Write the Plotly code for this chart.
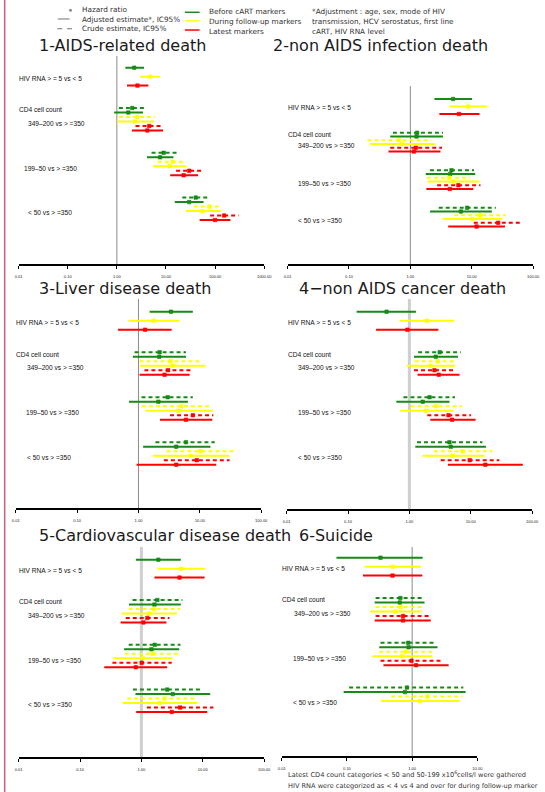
import plotly.graph_objects as go

W, H = 545, 792

# ---------------- data ----------------
tick_vals = [0.01, 0.1, 1, 10, 100, 1000]
tick_text = ["0.01", "0.10", "1.00", "10.00", "100.00", "1000.00"]

panel_titles = ["1-AIDS-related death", "2-non AIDS infection death",
                "3-Liver disease death", "4\u2212non AIDS cancer death",
                "5-Cardiovascular disease death", "6-Suicide"]

row_labels = ["HIV RNA > = 5 vs < 5", "CD4 cell count",
              "349\u2013200 vs > =350", "199\u201350 vs > =350", "< 50 vs > =350"]

# rows: HIV RNA (3 markers, adjusted) then 3 CD4 groups x (crude/adjusted x 3 markers)
row_marker = (["before", "during", "latest"]
              + ["before", "before", "during", "during", "latest", "latest"] * 3)
row_kind = ["adjusted"] * 3 + ["crude", "adjusted"] * 9
row_slot = [0, 2, 4, 9, 10, 11, 12, 13, 14, 19, 20, 21, 22, 23, 24,
            29, 30, 31, 32, 33, 34]

# 1 - AIDS-related death
aids_lo = [1.49, 2.97, 1.61, 1.10, 0.88, 1.10, 1.00, 2.40, 2.03,
           5.09, 4.11, 6.81, 5.49, 16.1, 12.2, 21.5, 15.1, 36.8, 25.5, 79.4, 48.6]
aids_est = [2.26, 4.71, 2.63, 2.06, 1.71, 2.59, 2.33, 4.57, 4.17,
            8.98, 7.59, 13.8, 12.0, 29.8, 22.9, 40.4, 29.8, 77.0, 55.6, 153, 100]
aids_hi = [3.57, 7.59, 4.37, 4.04, 3.41, 5.94, 5.75, 8.86, 8.72,
           16.6, 14.2, 25.1, 26.3, 56.6, 45.1, 75.9, 58.5, 129, 131, 302, 206]

# 2 - non AIDS infection death
inf_lo = [2.47, 4.30, 2.97, 0.52, 0.47, 0.20, 0.22, 0.47, 0.44,
          2.09, 1.78, 1.87, 1.91, 2.73, 1.82, 2.90, 2.09, 5.16, 3.36, 10.8, 4.14]
inf_est = [4.97, 8.76, 6.20, 1.29, 1.26, 0.65, 0.74, 1.23, 1.14,
           4.68, 4.46, 4.30, 5.03, 6.06, 4.40, 8.42, 6.68, 13.6, 10.2, 27.0, 12.0]
inf_hi = [10.1, 18.0, 13.4, 3.40, 3.40, 2.19, 2.54, 3.28, 3.09,
          10.9, 11.4, 9.42, 13.4, 13.9, 10.6, 24.7, 21.3, 35.8, 31.2, 67.5, 34.8]

# 3 - Liver disease death
liver_lo = [1.52, 0.685, 0.463, 0.864, 0.81, 1.04, 1.06, 1.25, 1.04,
            1.12, 0.70, 1.14, 1.29, 3.27, 2.24, 1.89, 1.19, 2.86, 1.71, 2.59, 0.93]
liver_est = [3.39, 1.77, 1.28, 2.21, 2.18, 3.35, 3.60, 3.04, 2.66,
             3.00, 2.11, 5.01, 4.54, 7.69, 5.95, 5.95, 4.12, 10.3, 7.06, 8.91, 4.12]
liver_hi = [7.69, 4.66, 3.47, 5.95, 5.95, 9.83, 12.4, 7.42, 6.81,
            7.69, 6.40, 14.9, 16.2, 16.6, 16.0, 17.5, 14.9, 36.3, 30.1, 30.5, 18.5]

# 4 - non AIDS cancer death
cancer_lo = [0.138, 0.693, 0.287, 1.39, 1.19, 1.22, 0.906, 1.19, 1.36,
             0.80, 0.613, 1.05, 0.71, 1.96, 2.19, 1.33, 1.25, 2.50, 1.63, 3.24, 4.24]
cancer_est = [0.425, 1.94, 0.929, 3.12, 2.69, 2.90, 2.21, 2.56, 3.01,
              2.13, 1.65, 2.73, 1.87, 4.34, 4.97, 4.50, 4.73, 7.34, 5.09, 9.61, 17.3]
cancer_hi = [1.28, 5.34, 2.97, 6.90, 6.19, 5.89, 5.54, 5.54, 6.57,
             5.54, 4.50, 7.16, 5.27, 10.1, 12.0, 15.5, 17.7, 22.6, 16.8, 29.3, 70.5]

# 5 - Cardiovascular disease death
cvd_lo = [0.812, 1.82, 1.63, 0.719, 0.628, 0.62, 0.474, 0.556, 0.457,
          0.62, 0.523, 0.536, 0.345, 0.337, 0.248, 0.727, 0.80, 0.59, 0.498, 1.23, 0.822]
cvd_est = [1.89, 4.45, 4.18, 1.82, 1.63, 1.61, 1.34, 1.25, 1.08,
           1.65, 1.46, 1.53, 1.05, 1.01, 0.81, 2.63, 3.24, 2.38, 1.98, 4.28, 3.12]
cvd_hi = [4.39, 11.0, 10.7, 4.67, 4.39, 4.28, 3.79, 2.86, 2.56,
          4.34, 4.13, 4.39, 3.16, 3.12, 2.63, 9.03, 13.2, 7.54, 8.09, 14.9, 11.8]

# 6 - Suicide
suic_lo = [0.069, 0.186, 0.176, 0.275, 0.266, 0.275, 0.226, 0.275, 0.266,
           0.327, 0.313, 0.313, 0.245, 0.327, 0.363, 0.108, 0.089, 0.478, 0.335, None, None]
suic_est = [0.327, 0.507, 0.501, 0.661, 0.646, 0.668, 0.556, 0.724, 0.724,
            0.871, 0.881, 0.794, 0.70, 0.977, 1.15, 0.832, 0.776, 1.70, 1.30, None, None]
suic_hi = [1.45, 1.36, 1.43, 1.45, 1.55, 1.45, 1.40, 1.93, 1.93,
           2.29, 2.45, 2.14, 2.04, 2.92, 3.63, 6.10, 6.61, 5.96, 5.31, None, None]

panel_data = [(aids_lo, aids_est, aids_hi), (inf_lo, inf_est, inf_hi),
              (liver_lo, liver_est, liver_hi), (cancer_lo, cancer_est, cancer_hi),
              (cvd_lo, cvd_est, cvd_hi), (suic_lo, suic_est, suic_hi)]

# ---------------- layout geometry (pixels) ----------------
panels = [
    dict(l=15, r=266, t=56, b=264, xr=[-2, 3], y0=67.7, st=4.48, vl="thin",
         title=(34, 46), labs=(13, 22, 18, 22)),
    dict(l=290, r=541, t=86, b=264, xr=[-2, 2], y0=99.0, st=3.75, vl="thin",
         title=(273, 46), labs=(288, 299, 299, 299)),
    dict(l=12, r=263, t=299, b=508, xr=[-2, 2], y0=311.7, st=4.5, vl="thin",
         title=(34, 289), labs=(10, 21, 20, 21)),
    dict(l=289, r=540, t=299, b=509, xr=[-2, 2], y0=311.7, st=4.5, vl="thick",
         title=(300, 289), labs=(288, 299, 299, 299)),
    dict(l=15, r=266, t=547, b=757, xr=[-2, 2], y0=559.7, st=4.48, vl="thick",
         title=(34, 535), labs=(13, 23, 23, 23)),
    dict(l=284, r=484, t=547, b=756, xr=[-2, 1], y0=557.7, st=4.48, vl="thin",
         title=(300, 535), labs=(282, 294, 293, 293)),
]
label_slots = [2.35, 9.4, 12.5, 22.4, 32.35]

colors = {"before": "#178a17", "during": "#ffff00", "latest": "#ff0000"}
dash_of = {"crude": "4px,3px", "adjusted": "solid"}

TXT = "#333333"
fig = go.Figure()
annotations = []
shapes = []
layout_axes = {}

for i, (p, (lo, est, hi)) in enumerate(zip(panels, panel_data)):
    n = i + 1
    xa = "x" if n == 1 else f"x{n}"
    ya = "y" if n == 1 else f"y{n}"
    y_bot = (p["b"] - p["y0"]) / p["st"]
    y_top = (p["t"] - p["y0"]) / p["st"]

    if p["vl"] == "thin":
        vl = dict(color="#8c8c8c", width=1)
    else:
        vl = dict(color="#cfcfcf", width=3)
    fig.add_trace(go.Scatter(x=[1, 1], y=[y_top, y_bot], mode="lines", line=vl,
                             xaxis=xa, yaxis=ya, showlegend=False, hoverinfo="skip"))

    for mk in ["before", "during", "latest"]:
        for kind in ["crude", "adjusted"]:
            xs, ys = [], []
            for j in range(len(row_slot)):
                if row_marker[j] == mk and row_kind[j] == kind and lo[j] is not None:
                    xs += [lo[j], hi[j], None]
                    ys += [row_slot[j], row_slot[j], None]
            if xs:
                fig.add_trace(go.Scatter(x=xs, y=ys, mode="lines",
                                         line=dict(color=colors[mk], width=2, dash=dash_of[kind]),
                                         xaxis=xa, yaxis=ya, showlegend=False,
                                         hoverinfo="skip", connectgaps=False))
        ex = [est[j] for j in range(len(row_slot)) if row_marker[j] == mk and est[j] is not None]
        ey = [row_slot[j] for j in range(len(row_slot)) if row_marker[j] == mk and est[j] is not None]
        fig.add_trace(go.Scatter(x=ex, y=ey, mode="markers",
                                 marker=dict(symbol="square", size=3.5, color=colors[mk],
                                             line=dict(width=0.6, color=colors[mk])),
                                 xaxis=xa, yaxis=ya, showlegend=False))

    nt = p["xr"][1] - p["xr"][0] + 1
    layout_axes["xaxis" if n == 1 else f"xaxis{n}"] = dict(
        type="log", range=p["xr"], domain=[p["l"] / W, p["r"] / W], anchor=ya,
        showline=True, linecolor="black", linewidth=2, mirror=False,
        ticks="outside", ticklen=3, tickwidth=1.2, tickcolor="black",
        tickvals=tick_vals[:nt], ticktext=tick_text[:nt],
        tickfont=dict(size=4, color="#222", family="Liberation Sans"),
        ticklabelstandoff=4,
        showgrid=False, zeroline=False, fixedrange=True)
    layout_axes["yaxis" if n == 1 else f"yaxis{n}"] = dict(
        range=[y_bot, y_top], domain=[1 - p["b"] / H, 1 - p["t"] / H], anchor=xa,
        visible=False, showgrid=False, zeroline=False, fixedrange=True)

    tx, ty = p["title"]
    annotations.append(dict(text=panel_titles[i], x=tx / W, y=1 - ty / H, xref="paper",
                            yref="paper", xanchor="left", yanchor="middle", showarrow=False,
                            font=dict(family="DejaVu Sans", size=16, color="#1a1a1a")))
    lx = p["labs"]
    lxs = [lx[0], lx[0], lx[1], lx[2], lx[3]]
    for k, txt in enumerate(row_labels):
        annotations.append(dict(text=txt, x=lxs[k] / W, y=label_slots[k], xref="paper",
                                yref=ya, xanchor="left", yanchor="middle", showarrow=False,
                                font=dict(family="Liberation Sans", size=6.6, color="#111")))

# ---------------- legend block ----------------
def pl(x0, y0, x1, y1, color, width=1.5, dash="solid"):
    shapes.append(dict(type="line", xref="paper", yref="paper", x0=x0 / W, x1=x1 / W,
                       y0=1 - y0 / H, y1=1 - y1 / H, line=dict(color=color, width=width, dash=dash)))

shapes.append(dict(type="circle", xref="paper", yref="paper", x0=66.5 / W, x1=69.5 / W,
                   y0=1 - 11.8 / H, y1=1 - 8.8 / H, fillcolor="#8a8a8a", line=dict(width=0)))
pl(55, 19, 67, 19, "#8a8a8a", 1.2)
pl(54.5, 28.7, 59.5, 28.7, "#8a8a8a", 1.2)
pl(64.5, 28.7, 69.5, 28.7, "#8a8a8a", 1.2)
pl(185, 12.3, 200, 12.3, colors["before"], 1.5)
pl(185, 20.9, 200, 20.9, colors["during"], 1.5)
pl(185, 30, 200, 30, colors["latest"], 1.5)

legend_texts = [("Hazard ratio", 78, 9.3), ("Adjusted estimate*, IC95%", 78, 19),
                ("Crude estimate, IC95%", 78, 28),
                ("Before cART markers", 208, 12), ("During follow-up markers", 208, 21.3),
                ("Latest markers", 208, 31),
                ("*Adjustment : age, sex, mode of HIV", 313, 12),
                ("transmission, HCV serostatus, first line", 313, 21.3),
                ("cART, HIV RNA level", 313, 31)]
for txt, x, y in legend_texts:
    annotations.append(dict(text=txt, x=x / W, y=1 - y / H, xref="paper", yref="paper",
                            xanchor="left", yanchor="middle", showarrow=False,
                            font=dict(family="DejaVu Sans", size=7.3, color=TXT)))

notes = [("Latest CD4 count categories < 50 and 50-199 x10<sup>6</sup>cells/l were gathered", 288, 774),
         ("HIV RNA were categorized as < 4 vs 4 and over for during follow-up marker", 288, 786)]
for txt, x, y in notes:
    annotations.append(dict(text=txt, x=x / W, y=1 - y / H, xref="paper", yref="paper",
                            xanchor="left", yanchor="middle", showarrow=False,
                            font=dict(family="DejaVu Sans", size=6.6, color=TXT)))

shapes.append(dict(type="line", xref="paper", yref="paper", x0=0.7 / W, x1=0.7 / W, y0=0, y1=1,
                   line=dict(color="#cc5f7a", width=1.5)))

fig.update_layout(width=W, height=H, margin=dict(l=0, r=0, t=0, b=0),
                  paper_bgcolor="white", plot_bgcolor="white", showlegend=False,
                  annotations=annotations, shapes=shapes, **layout_axes)

fig.write_html("out.html", config={"displayModeBar": False},
               post_script="document.body.style.margin='0';document.body.style.overflow='hidden';")
